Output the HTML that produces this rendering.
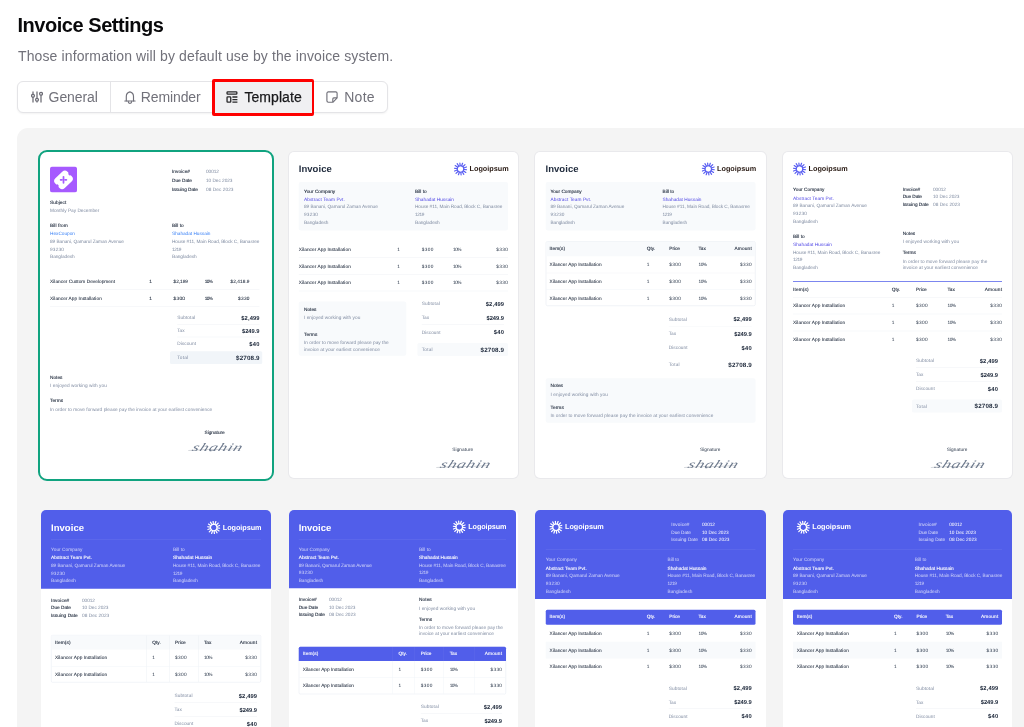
<!DOCTYPE html>
<html lang="en"><head><meta charset="utf-8"><title>Invoice Settings</title>
<style>
*{margin:0;padding:0}
html,body{width:1024px;height:727px;overflow:hidden;background:#fff}
body{position:relative;font-family:"Liberation Sans",sans-serif;-webkit-font-smoothing:antialiased}
.r,.t{position:absolute;display:block}
.t{white-space:nowrap}
.inv{text-rendering:geometricPrecision}
.tabs{box-sizing:border-box;border:1px solid #e4e4e7;border-radius:6px;background:#fff;box-shadow:0 1px 2px rgba(0,0,0,.05)}
.card{position:absolute;box-sizing:border-box;background:#fff;border-radius:5px;overflow:hidden;box-shadow:0 0 0 1px #e9e9ec}
.card.sel{border:2px solid #10a37f;border-radius:9px;box-shadow:none}
.card.blue{box-shadow:none}
.inv{position:absolute;left:0;top:0;width:940px;height:1320px;transform:scale(.25);transform-origin:0 0}
.pt{font-size:20px;line-height:20px;color:#09090b;font-weight:700}
.ps,.tb{font-size:14px;line-height:14px;color:#71717a}
.lb{font-size:19px;line-height:19px;color:#1e293b;}.tx{font-size:19px;line-height:19px;color:#7f8ba1;}.ln{font-size:19px;line-height:19px;color:#4f46e5;}.md{font-size:19px;line-height:19px;color:#1e293b;}.dk{font-size:19px;line-height:19px;color:#283548;}.h1{font-size:38px;line-height:38px;color:#1e293b;font-weight:700;}.lg{font-size:29px;line-height:29px;color:#2a1b14;font-weight:700;}.vl{font-size:23px;line-height:23px;color:#1e293b;font-weight:700;}.tt{font-size:25px;line-height:25px;color:#1e293b;font-weight:700;}.sg{font-size:46px;line-height:46px;color:#6f7b8e;font-family:"Liberation Serif",serif;font-style:italic;}.lb{-webkit-text-stroke:.45px}.md{-webkit-text-stroke:.25px}
</style></head>
<body>
<span class="t pt" style="left:17.5px;top:15.1px;letter-spacing:-0.46px;">Invoice Settings</span><span class="t ps" style="left:18px;top:49.2px;letter-spacing:0.12px;">Those information will by default use by the invoice system.</span><div class="r tabs" style="left:17px;top:80.7px;width:370.6px;height:32.3px"></div><div class="r" style="left:110px;top:82px;width:1px;height:30px;background:#e4e4e7;"></div><div class="r" style="left:212.3px;top:79.3px;width:102px;height:36.6px;background:#fe0000;border-radius:2px"></div><div class="r" style="left:214.9px;top:81.9px;width:96.8px;height:31.4px;background:#f0f0f2"></div><svg class="r ic" style="left:31px;top:91px" width="12" height="12" viewBox="0 0 12 12" fill="none" stroke="#6b6b74" stroke-width="1.25"><path d="M2 .4v2.9M2 6.3v5.3M6 .4v6.8M6 10.4v1.2M10 4.4v7.2"/><circle cx="2" cy="4.8" r="1.45"/><circle cx="6" cy="8.8" r="1.45"/><circle cx="10" cy="2.8" r="1.45"/></svg><span class="t tb" style="left:48.6px;top:90px;letter-spacing:-0.1px;">General</span><svg class="r ic" style="left:123.5px;top:90.5px" width="12" height="13" viewBox="0 0 12 13" fill="none" stroke="#71717a" stroke-width="1.15" stroke-linejoin="round" stroke-linecap="round"><path d="M2.3 9.9V5.4C2.3 2.9 4 1.4 5.9 .9C7.8 1.4 9.5 2.9 9.5 5.4V9.9"/><path d="M.8 9.95H11.1"/><path d="M4.2 10.4a1.75 1.9 0 0 0 3.5 0"/></svg><span class="t tb" style="left:140.7px;top:90px;letter-spacing:-0.1px;">Reminder</span><svg class="r ic" style="left:225.5px;top:91px" width="12" height="12" viewBox="0 0 12 12" fill="none" stroke="#27272a" stroke-width="1.3"><rect x="1.05" y=".8" width="9.8" height="2.3" rx=".7"/><rect x="1.05" y="5.8" width="3.7" height="5.3" rx=".7"/><path d="M6.4 6h5M6.4 8.6h5M6.4 11.2h5"/></svg><span class="t tb" style="left:244.4px;top:90px;letter-spacing:0.07px;color:#18181b;-webkit-text-stroke:.25px #18181b;">Template</span><svg class="r ic" style="left:325.9px;top:91px" width="12" height="12" viewBox="0 0 12 12" fill="none" stroke="#71717a" stroke-width="1.15" stroke-linejoin="round"><path d="M2.3.9h7.4a1.4 1.4 0 0 1 1.4 1.4v4.6L7.1 11.2H2.3A1.4 1.4 0 0 1 .9 9.8V2.3A1.4 1.4 0 0 1 2.3.9z"/><path d="M11 6.9H7.8a1 1 0 0 0-1 1v3.2"/></svg><span class="t tb" style="left:344.2px;top:90px;letter-spacing:0.28px;">Note</span><div class="r" style="left:17.2px;top:128.4px;width:1020px;height:620px;background:#f4f4f4;border-radius:11px"></div>
<div class="card sel" style="left:38px;top:149.5px;width:236px;height:331.5px;"><div class="inv" style="left:-2px;top:-1.5px"><svg class="r" style="left:48px;top:66px" width="108" height="104" viewBox="0 0 108 104"><rect width="108" height="104" rx="10" fill="#a65aff"/><g transform="rotate(-44 54 53.5)"><rect x="20" y="26.5" width="68" height="54" rx="15" fill="#fff"/><circle cx="19" cy="53.5" r="6" fill="#a65aff"/><circle cx="89" cy="53.5" r="6" fill="#a65aff"/></g><path d="M54 41v24M42.5 53h4.5M61 53h4.5" stroke="#a65aff" stroke-width="7" stroke-linecap="round"/></svg><span class="t lb" style="left:536px;top:74.5px;letter-spacing:0.18px;">Invoice#</span><span class="t tx" style="left:672px;top:74.5px;letter-spacing:-0.21px;">00012</span><span class="t lb" style="left:536px;top:110.5px;letter-spacing:-0.04px;">Due Date</span><span class="t tx" style="left:672px;top:110.5px;letter-spacing:-0.17px;">10 Dec 2023</span><span class="t lb" style="left:536px;top:146.5px;letter-spacing:-0.15px;">Issuing Date</span><span class="t tx" style="left:672px;top:146.5px;letter-spacing:0.23px;">08 Dec 2023</span><span class="t lb" style="left:48px;top:199.5px;letter-spacing:0.27px;">Subject</span><span class="t tx" style="left:48px;top:232.5px;letter-spacing:-0.02px;">Monthly Pay December</span><span class="t lb" style="left:48px;top:292.5px;letter-spacing:0.3px;">Bill from</span><span class="t ln" style="left:48px;top:324.5px;letter-spacing:-0.04px;color:#3b82f6;">HexCoupon</span><span class="t tx" style="left:48px;top:355.5px;letter-spacing:-0.19px;">89 Banani, Qamarul Zaman Avenue</span><span class="t tx" style="left:48px;top:386.5px;letter-spacing:0.79px;">93230</span><span class="t tx" style="left:48px;top:417.5px;letter-spacing:-0.15px;">Bangladesh</span><span class="t lb" style="left:536px;top:292.5px;letter-spacing:0.09px;">Bill to</span><span class="t ln" style="left:536px;top:324.5px;letter-spacing:-0.09px;color:#3b82f6;">Shahadat Hussain</span><span class="t tx" style="left:536px;top:355.5px;letter-spacing:-0.29px;">House #11, Main Road, Block C, Banasree</span><span class="t tx" style="left:536px;top:386.5px;letter-spacing:-1.42px;">1219</span><span class="t tx" style="left:536px;top:417.5px;letter-spacing:-0.15px;">Bangladesh</span><span class="t md" style="left:48px;top:515.5px;letter-spacing:0.13px;">Xilancer Custom Development</span><span class="t md" style="left:445px;top:515.5px;">1</span><span class="t md" style="left:542px;top:515.5px;letter-spacing:-0.02px;">$2,199</span><span class="t md" style="left:667px;top:515.5px;letter-spacing:-2.51px;">10%</span><span class="t md" style="left:770px;top:515.5px;letter-spacing:0.29px;">$2,418.9</span><div class="r" style="left:48px;top:558px;width:838px;height:2px;background:#eef1f5;"></div><span class="t md" style="left:48px;top:582.5px;letter-spacing:0.18px;">Xilancer App Installation</span><span class="t md" style="left:445px;top:582.5px;">1</span><span class="t md" style="left:542px;top:582.5px;letter-spacing:1.24px;">$300</span><span class="t md" style="left:667px;top:582.5px;letter-spacing:-2.51px;">10%</span><span class="t md" style="left:800px;top:582.5px;letter-spacing:1.24px;">$330</span><div class="r" style="left:48px;top:624px;width:838px;height:2px;background:#eef1f5;"></div><div class="r" style="left:528px;top:805px;width:369px;height:51px;background:#f1f5f9;border-radius:6px;"></div><div class="r" style="left:557px;top:696px;width:329px;height:2px;background:#eef1f5;"></div><div class="r" style="left:557px;top:747px;width:329px;height:2px;background:#eef1f5;"></div><span class="t tx" style="left:557px;top:661.5px;letter-spacing:0.33px;">Subtotal</span><span class="t vl" style="left:813px;top:659.5px;letter-spacing:0.53px;">$2,499</span><span class="t tx" style="left:557px;top:713.5px;letter-spacing:-0.28px;">Tax</span><span class="t vl" style="left:816px;top:711.5px;letter-spacing:-0.07px;">$249.9</span><span class="t tx" style="left:557px;top:764.5px;letter-spacing:0.15px;">Discount</span><span class="t vl" style="left:845px;top:762.5px;letter-spacing:1.31px;">$40</span><span class="t tx" style="left:557px;top:820.5px;letter-spacing:0.72px;">Total</span><span class="t tt" style="left:792px;top:817.5px;letter-spacing:0.61px;">$2708.9</span><span class="t lb" style="left:48px;top:900.5px;letter-spacing:0.09px;">Notes</span><span class="t tx" style="left:48px;top:933.5px;letter-spacing:0.17px;">I enjoyed working with you</span><span class="t lb" style="left:48px;top:991.5px;letter-spacing:0.07px;">Terms</span><span class="t tx" style="left:48px;top:1026.5px;letter-spacing:0.09px;">In order to move forward please pay the invoice at your earliest convenience</span><span class="t lb" style="left:666px;top:1120.5px;letter-spacing:-0.04px;">Signature</span><span class="t sg" style="left:610px;top:1164px;letter-spacing:1.86px;transform:skewX(-22deg) scaleX(1.5);transform-origin:0 100%;">shahin</span><div class="r" style="left:601px;top:1197px;width:208px;height:1.6px;background:rgba(71,85,105,.45);border-radius:1px;transform:rotate(-1.5deg);"></div></div></div>
<div class="card " style="left:288.5px;top:152px;width:229.6px;height:325.6px;"><div class="inv" style="left:-0.5px;top:0px"><span class="t h1" style="left:43px;top:50px;letter-spacing:0.18px;">Invoice</span><svg class="r" style="left:664px;top:42px" width="52" height="52" viewBox="0 0 52 52"><g stroke="#5a5ff2" stroke-width="4.78" stroke-linecap="round" fill="none"><line x1="38.91" y1="27.56" x2="51.04" y2="29.02"/><line x1="36.95" y1="33.00" x2="47.25" y2="39.58"/><line x1="32.83" y1="37.06" x2="39.25" y2="47.46"/><line x1="27.35" y1="38.93" x2="28.63" y2="51.08"/><line x1="21.61" y1="38.24" x2="17.48" y2="49.74"/><line x1="16.74" y1="35.12" x2="8.03" y2="43.69"/><line x1="13.70" y1="30.20" x2="2.13" y2="34.14"/><line x1="13.09" y1="24.44" x2="0.96" y2="22.98"/><line x1="15.05" y1="19.00" x2="4.75" y2="12.42"/><line x1="19.17" y1="14.94" x2="12.75" y2="4.54"/><line x1="24.65" y1="13.07" x2="23.37" y2="0.92"/><line x1="30.39" y1="13.76" x2="34.52" y2="2.26"/><line x1="35.26" y1="16.88" x2="43.97" y2="8.31"/><line x1="38.30" y1="21.80" x2="49.87" y2="17.86"/><circle cx="26" cy="26" r="13.00" stroke-width="4.42"/></g></svg><span class="t lg" style="left:726px;top:52.5px;letter-spacing:0.09px;">Logoipsum</span><div class="r" style="left:43px;top:120px;width:837px;height:194px;background:#f8fafc;border-radius:8px;"></div><span class="t lb" style="left:64px;top:146.5px;">Your Company</span><span class="t ln" style="left:64px;top:178.5px;letter-spacing:0.23px;">Abstract Team Pvt.</span><span class="t tx" style="left:64px;top:209.5px;letter-spacing:-0.22px;">89 Banani, Qamarul Zaman Avenue</span><span class="t tx" style="left:64px;top:240.5px;letter-spacing:0.79px;">93230</span><span class="t tx" style="left:64px;top:271.5px;letter-spacing:-0.26px;">Bangladesh</span><span class="t lb" style="left:508px;top:146.5px;letter-spacing:0.09px;">Bill to</span><span class="t ln" style="left:508px;top:178.5px;letter-spacing:0.05px;">Shahadat Hussain</span><span class="t tx" style="left:508px;top:209.5px;letter-spacing:-0.29px;">House #11, Main Road, Block C, Banasree</span><span class="t tx" style="left:508px;top:240.5px;letter-spacing:-1.42px;">1219</span><span class="t tx" style="left:508px;top:271.5px;letter-spacing:-0.15px;">Bangladesh</span><span class="t md" style="left:43px;top:380.5px;letter-spacing:0.22px;">Xilancer App Installation</span><span class="t dk" style="left:437px;top:380.5px;">1</span><span class="t dk" style="left:535px;top:380.5px;letter-spacing:1.58px;">$300</span><span class="t dk" style="left:660px;top:380.5px;letter-spacing:-2.01px;">10%</span><span class="t dk" style="left:833px;top:380.5px;letter-spacing:1.58px;">$330</span><span class="t md" style="left:43px;top:446.5px;letter-spacing:0.22px;">Xilancer App Installation</span><span class="t dk" style="left:437px;top:446.5px;">1</span><span class="t dk" style="left:535px;top:446.5px;letter-spacing:1.58px;">$300</span><span class="t dk" style="left:660px;top:446.5px;letter-spacing:-2.01px;">10%</span><span class="t dk" style="left:833px;top:446.5px;letter-spacing:1.58px;">$330</span><span class="t md" style="left:43px;top:513.5px;letter-spacing:0.22px;">Xilancer App Installation</span><span class="t dk" style="left:437px;top:513.5px;">1</span><span class="t dk" style="left:535px;top:513.5px;letter-spacing:1.58px;">$300</span><span class="t dk" style="left:660px;top:513.5px;letter-spacing:-2.01px;">10%</span><span class="t dk" style="left:833px;top:513.5px;letter-spacing:1.58px;">$330</span><div class="r" style="left:43px;top:421px;width:837px;height:2px;background:#eef1f5;"></div><div class="r" style="left:43px;top:488px;width:837px;height:2px;background:#eef1f5;"></div><div class="r" style="left:43px;top:555px;width:837px;height:2px;background:#eef1f5;"></div><div class="r" style="left:43px;top:598px;width:430px;height:217px;background:#f8fafc;border-radius:8px;"></div><span class="t lb" style="left:64px;top:618.5px;letter-spacing:0.09px;">Notes</span><span class="t tx" style="left:64px;top:651.5px;letter-spacing:0.09px;">I enjoyed working with you</span><span class="t lb" style="left:64px;top:719.5px;letter-spacing:0.32px;">Terms</span><span class="t tx" style="left:64px;top:753.5px;letter-spacing:0.08px;">In order to move forward please pay the</span><span class="t tx" style="left:64px;top:778.5px;letter-spacing:0.06px;">invoice at your earliest convenience</span><div class="r" style="left:518px;top:764px;width:362px;height:52px;background:#f8fafc;border-radius:6px;"></div><div class="r" style="left:535px;top:688px;width:329px;height:2px;background:#eef1f5;"></div><span class="t tx" style="left:535px;top:597.5px;letter-spacing:0.33px;">Subtotal</span><span class="t vl" style="left:791px;top:595.5px;letter-spacing:0.53px;">$2,499</span><span class="t tx" style="left:535px;top:653.5px;letter-spacing:-0.28px;">Tax</span><span class="t vl" style="left:794px;top:651.5px;letter-spacing:-0.07px;">$249.9</span><span class="t tx" style="left:535px;top:711.5px;letter-spacing:0.15px;">Discount</span><span class="t vl" style="left:823px;top:709.5px;letter-spacing:1.31px;">$40</span><span class="t tx" style="left:535px;top:780.5px;letter-spacing:0.72px;">Total</span><span class="t tt" style="left:770px;top:777.5px;letter-spacing:0.61px;">$2708.9</span><span class="t dk" style="left:657px;top:1179.5px;letter-spacing:0.33px;">Signature</span><span class="t sg" style="left:602px;top:1224px;letter-spacing:1.86px;transform:skewX(-22deg) scaleX(1.5);transform-origin:0 100%;">shahin</span><div class="r" style="left:593px;top:1257px;width:208px;height:1.6px;background:rgba(71,85,105,.45);border-radius:1px;transform:rotate(-1.5deg);"></div></div></div>
<div class="card " style="left:535.4px;top:152px;width:230.2px;height:325.6px;"><div class="inv" style="left:-0.4px;top:0px"><span class="t h1" style="left:42px;top:50px;letter-spacing:0.18px;">Invoice</span><svg class="r" style="left:667px;top:42px" width="52" height="52" viewBox="0 0 52 52"><g stroke="#5a5ff2" stroke-width="4.78" stroke-linecap="round" fill="none"><line x1="38.91" y1="27.56" x2="51.04" y2="29.02"/><line x1="36.95" y1="33.00" x2="47.25" y2="39.58"/><line x1="32.83" y1="37.06" x2="39.25" y2="47.46"/><line x1="27.35" y1="38.93" x2="28.63" y2="51.08"/><line x1="21.61" y1="38.24" x2="17.48" y2="49.74"/><line x1="16.74" y1="35.12" x2="8.03" y2="43.69"/><line x1="13.70" y1="30.20" x2="2.13" y2="34.14"/><line x1="13.09" y1="24.44" x2="0.96" y2="22.98"/><line x1="15.05" y1="19.00" x2="4.75" y2="12.42"/><line x1="19.17" y1="14.94" x2="12.75" y2="4.54"/><line x1="24.65" y1="13.07" x2="23.37" y2="0.92"/><line x1="30.39" y1="13.76" x2="34.52" y2="2.26"/><line x1="35.26" y1="16.88" x2="43.97" y2="8.31"/><line x1="38.30" y1="21.80" x2="49.87" y2="17.86"/><circle cx="26" cy="26" r="13.00" stroke-width="4.42"/></g></svg><span class="t lg" style="left:728px;top:52.5px;letter-spacing:0.09px;">Logoipsum</span><div class="r" style="left:43px;top:120px;width:839px;height:194px;background:#f8fafc;border-radius:8px;"></div><span class="t lb" style="left:62px;top:146.5px;">Your Company</span><span class="t ln" style="left:62px;top:178.5px;letter-spacing:0.23px;">Abstract Team Pvt.</span><span class="t tx" style="left:62px;top:209.5px;letter-spacing:-0.22px;">89 Banani, Qamarul Zaman Avenue</span><span class="t tx" style="left:62px;top:240.5px;letter-spacing:0.79px;">93230</span><span class="t tx" style="left:62px;top:271.5px;letter-spacing:-0.26px;">Bangladesh</span><span class="t lb" style="left:510px;top:146.5px;letter-spacing:0.09px;">Bill to</span><span class="t ln" style="left:510px;top:178.5px;letter-spacing:0.05px;">Shahadat Hussain</span><span class="t tx" style="left:510px;top:209.5px;letter-spacing:-0.29px;">House #11, Main Road, Block C, Banasree</span><span class="t tx" style="left:510px;top:240.5px;letter-spacing:-1.42px;">1219</span><span class="t tx" style="left:510px;top:271.5px;letter-spacing:-0.15px;">Bangladesh</span><div class="r" style="left:43px;top:357px;width:839px;height:259px;background:#fff;border-radius:7px;border:2px solid #e1e7ef;box-sizing:border-box;"></div><div class="r" style="left:45px;top:359px;width:835px;height:58px;background:#f8fafc;border-radius:5px 5px 0 0;"></div><span class="t lb" style="left:58px;top:375.5px;letter-spacing:0.48px;">Item(s)</span><span class="t lb" style="left:447px;top:375.5px;letter-spacing:0.19px;">Qty.</span><span class="t lb" style="left:537px;top:375.5px;letter-spacing:-0.07px;">Price</span><span class="t lb" style="left:654px;top:375.5px;letter-spacing:-0.28px;">Tax</span><span class="t lb" style="left:798px;top:375.5px;letter-spacing:0.7px;">Amount</span><span class="t md" style="left:58px;top:441.5px;letter-spacing:0.22px;">Xilancer App Installation</span><span class="t dk" style="left:447px;top:441.5px;">1</span><span class="t dk" style="left:537px;top:441.5px;letter-spacing:1.58px;">$300</span><span class="t dk" style="left:654px;top:441.5px;letter-spacing:-2.01px;">10%</span><span class="t dk" style="left:820px;top:441.5px;letter-spacing:1.58px;">$330</span><span class="t md" style="left:58px;top:508.5px;letter-spacing:0.22px;">Xilancer App Installation</span><span class="t dk" style="left:447px;top:508.5px;">1</span><span class="t dk" style="left:537px;top:508.5px;letter-spacing:1.58px;">$300</span><span class="t dk" style="left:654px;top:508.5px;letter-spacing:-2.01px;">10%</span><span class="t dk" style="left:820px;top:508.5px;letter-spacing:1.58px;">$330</span><span class="t md" style="left:58px;top:574.5px;letter-spacing:0.22px;">Xilancer App Installation</span><span class="t dk" style="left:447px;top:574.5px;">1</span><span class="t dk" style="left:537px;top:574.5px;letter-spacing:1.58px;">$300</span><span class="t dk" style="left:654px;top:574.5px;letter-spacing:-2.01px;">10%</span><span class="t dk" style="left:820px;top:574.5px;letter-spacing:1.58px;">$330</span><div class="r" style="left:45px;top:483px;width:835px;height:2px;background:#f1f4f8;"></div><div class="r" style="left:45px;top:550px;width:835px;height:2px;background:#f1f4f8;"></div><span class="t tx" style="left:535px;top:659.5px;letter-spacing:0.33px;">Subtotal</span><span class="t vl" style="left:794px;top:657.5px;letter-spacing:0.53px;">$2,499</span><span class="t tx" style="left:535px;top:717.5px;letter-spacing:-0.28px;">Tax</span><span class="t vl" style="left:797px;top:715.5px;letter-spacing:-0.07px;">$249.9</span><span class="t tx" style="left:535px;top:773.5px;letter-spacing:0.15px;">Discount</span><span class="t vl" style="left:826px;top:771.5px;letter-spacing:1.31px;">$40</span><span class="t tx" style="left:535px;top:841.5px;letter-spacing:0.72px;">Total</span><span class="t tt" style="left:773px;top:838.5px;letter-spacing:0.61px;">$2708.9</span><div class="r" style="left:535px;top:696px;width:332px;height:2px;background:#f4f6f9;"></div><div class="r" style="left:43px;top:905px;width:839px;height:178px;background:#f8fafc;border-radius:8px;"></div><span class="t lb" style="left:62px;top:925.5px;letter-spacing:0.09px;">Notes</span><span class="t tx" style="left:62px;top:958.5px;letter-spacing:0.25px;">I enjoyed working with you</span><span class="t lb" style="left:62px;top:1013.5px;letter-spacing:0.32px;">Terms</span><span class="t tx" style="left:62px;top:1045.5px;letter-spacing:0.12px;">In order to move forward please pay the invoice at your earliest convenience</span><span class="t dk" style="left:660px;top:1179.5px;letter-spacing:0.08px;">Signature</span><span class="t sg" style="left:605px;top:1224px;letter-spacing:1.86px;transform:skewX(-22deg) scaleX(1.5);transform-origin:0 100%;">shahin</span><div class="r" style="left:596px;top:1257px;width:208px;height:1.6px;background:rgba(71,85,105,.45);border-radius:1px;transform:rotate(-1.5deg);"></div></div></div>
<div class="card " style="left:783px;top:152px;width:229.3px;height:325.6px;"><div class="inv" style="left:0px;top:0px"><svg class="r" style="left:40px;top:42px" width="52" height="52" viewBox="0 0 52 52"><g stroke="#5a5ff2" stroke-width="4.78" stroke-linecap="round" fill="none"><line x1="38.91" y1="27.56" x2="51.04" y2="29.02"/><line x1="36.95" y1="33.00" x2="47.25" y2="39.58"/><line x1="32.83" y1="37.06" x2="39.25" y2="47.46"/><line x1="27.35" y1="38.93" x2="28.63" y2="51.08"/><line x1="21.61" y1="38.24" x2="17.48" y2="49.74"/><line x1="16.74" y1="35.12" x2="8.03" y2="43.69"/><line x1="13.70" y1="30.20" x2="2.13" y2="34.14"/><line x1="13.09" y1="24.44" x2="0.96" y2="22.98"/><line x1="15.05" y1="19.00" x2="4.75" y2="12.42"/><line x1="19.17" y1="14.94" x2="12.75" y2="4.54"/><line x1="24.65" y1="13.07" x2="23.37" y2="0.92"/><line x1="30.39" y1="13.76" x2="34.52" y2="2.26"/><line x1="35.26" y1="16.88" x2="43.97" y2="8.31"/><line x1="38.30" y1="21.80" x2="49.87" y2="17.86"/><circle cx="26" cy="26" r="13.00" stroke-width="4.42"/></g></svg><span class="t lg" style="left:102px;top:52.5px;letter-spacing:0.09px;">Logoipsum</span><span class="t lb" style="left:40px;top:141.5px;letter-spacing:0.09px;">Your Company</span><span class="t ln" style="left:40px;top:174.5px;letter-spacing:0.29px;">Abstract Team Pvt.</span><span class="t tx" style="left:40px;top:205.5px;letter-spacing:-0.19px;">89 Banani, Qamarul Zaman Avenue</span><span class="t tx" style="left:40px;top:235.5px;letter-spacing:0.79px;">93230</span><span class="t tx" style="left:40px;top:266.5px;letter-spacing:-0.04px;">Bangladesh</span><span class="t lb" style="left:479px;top:139.5px;letter-spacing:-0.11px;">Invoice#</span><span class="t tx" style="left:600px;top:139.5px;letter-spacing:-0.21px;">00012</span><span class="t lb" style="left:479px;top:169.5px;letter-spacing:-0.47px;">Due Date</span><span class="t tx" style="left:600px;top:169.5px;letter-spacing:-0.17px;">10 Dec 2023</span><span class="t lb" style="left:479px;top:200.5px;letter-spacing:-0.15px;">Issuing Date</span><span class="t tx" style="left:600px;top:200.5px;letter-spacing:0.03px;">08 Dec 2023</span><span class="t lb" style="left:40px;top:326.5px;letter-spacing:0.09px;">Bill to</span><span class="t ln" style="left:40px;top:359.5px;letter-spacing:0.05px;">Shahadat Hussain</span><span class="t tx" style="left:40px;top:390.5px;letter-spacing:-0.29px;">House #11, Main Road, Block C, Banasree</span><span class="t tx" style="left:40px;top:420.5px;letter-spacing:-1.42px;">1219</span><span class="t tx" style="left:40px;top:451.5px;letter-spacing:-0.04px;">Bangladesh</span><span class="t lb" style="left:479px;top:316.5px;letter-spacing:0.09px;">Notes</span><span class="t tx" style="left:479px;top:349.5px;letter-spacing:0.09px;">I enjoyed working with you</span><span class="t lb" style="left:479px;top:392.5px;letter-spacing:0.07px;">Terms</span><span class="t tx" style="left:479px;top:426.5px;letter-spacing:0.06px;">In order to move forward please pay the</span><span class="t tx" style="left:479px;top:452.5px;">invoice at your earliest convenience</span><div class="r" style="left:40px;top:515.5px;width:836px;height:3px;background:#515eea;"></div><span class="t lb" style="left:40px;top:539.5px;letter-spacing:0.48px;">Item(s)</span><span class="t lb" style="left:435px;top:539.5px;letter-spacing:0.19px;">Qty.</span><span class="t lb" style="left:532px;top:539.5px;letter-spacing:-0.07px;">Price</span><span class="t lb" style="left:658px;top:539.5px;letter-spacing:-0.28px;">Tax</span><span class="t lb" style="left:807px;top:539.5px;letter-spacing:0.7px;">Amount</span><div class="r" style="left:40px;top:580px;width:836px;height:2px;background:#eef1f5;"></div><span class="t md" style="left:40px;top:605.5px;letter-spacing:0.22px;">Xilancer App Installation</span><span class="t dk" style="left:435px;top:605.5px;">1</span><span class="t dk" style="left:532px;top:605.5px;letter-spacing:1.58px;">$300</span><span class="t dk" style="left:658px;top:605.5px;letter-spacing:-2.01px;">10%</span><span class="t dk" style="left:829px;top:605.5px;letter-spacing:1.58px;">$330</span><span class="t md" style="left:40px;top:673.5px;letter-spacing:0.22px;">Xilancer App Installation</span><span class="t dk" style="left:435px;top:673.5px;">1</span><span class="t dk" style="left:532px;top:673.5px;letter-spacing:1.58px;">$300</span><span class="t dk" style="left:658px;top:673.5px;letter-spacing:-2.01px;">10%</span><span class="t dk" style="left:829px;top:673.5px;letter-spacing:1.58px;">$330</span><span class="t md" style="left:40px;top:739.5px;letter-spacing:0.22px;">Xilancer App Installation</span><span class="t dk" style="left:435px;top:739.5px;">1</span><span class="t dk" style="left:532px;top:739.5px;letter-spacing:1.58px;">$300</span><span class="t dk" style="left:658px;top:739.5px;letter-spacing:-2.01px;">10%</span><span class="t dk" style="left:829px;top:739.5px;letter-spacing:1.58px;">$330</span><div class="r" style="left:40px;top:647px;width:836px;height:2px;background:#eef1f5;"></div><div class="r" style="left:40px;top:715px;width:836px;height:2px;background:#eef1f5;"></div><div class="r" style="left:516px;top:990px;width:360px;height:52px;background:#f8fafc;border-radius:6px;"></div><div class="r" style="left:532px;top:861px;width:328px;height:2px;background:#eef1f5;"></div><div class="r" style="left:532px;top:918px;width:328px;height:2px;background:#eef1f5;"></div><span class="t tx" style="left:532px;top:825.5px;letter-spacing:0.33px;">Subtotal</span><span class="t vl" style="left:787px;top:823.5px;letter-spacing:0.53px;">$2,499</span><span class="t tx" style="left:532px;top:881.5px;letter-spacing:-0.28px;">Tax</span><span class="t vl" style="left:790px;top:879.5px;letter-spacing:-0.07px;">$249.9</span><span class="t tx" style="left:532px;top:937.5px;letter-spacing:0.15px;">Discount</span><span class="t vl" style="left:819px;top:935.5px;letter-spacing:1.31px;">$40</span><span class="t tx" style="left:532px;top:1006.5px;letter-spacing:0.72px;">Total</span><span class="t tt" style="left:766px;top:1003.5px;letter-spacing:0.61px;">$2708.9</span><span class="t dk" style="left:655px;top:1179.5px;letter-spacing:0.21px;">Signature</span><span class="t sg" style="left:600px;top:1224px;letter-spacing:1.86px;transform:skewX(-22deg) scaleX(1.5);transform-origin:0 100%;">shahin</span><div class="r" style="left:591px;top:1257px;width:208px;height:1.6px;background:rgba(71,85,105,.45);border-radius:1px;transform:rotate(-1.5deg);"></div></div></div>
<div class="card blue" style="left:41px;top:510.4px;width:230.3px;height:326px;"><div class="inv" style="left:0px;top:-0.4px"><div class="r" style="left:0px;top:0px;width:925px;height:315px;background:#515eea;"></div><span class="t h1" style="left:40px;top:51px;letter-spacing:0.18px;color:#ffffff;">Invoice</span><svg class="r" style="left:665px;top:44px" width="52" height="52" viewBox="0 0 52 52"><g stroke="#fff" stroke-width="4.78" stroke-linecap="round" fill="none"><line x1="38.91" y1="27.56" x2="51.04" y2="29.02"/><line x1="36.95" y1="33.00" x2="47.25" y2="39.58"/><line x1="32.83" y1="37.06" x2="39.25" y2="47.46"/><line x1="27.35" y1="38.93" x2="28.63" y2="51.08"/><line x1="21.61" y1="38.24" x2="17.48" y2="49.74"/><line x1="16.74" y1="35.12" x2="8.03" y2="43.69"/><line x1="13.70" y1="30.20" x2="2.13" y2="34.14"/><line x1="13.09" y1="24.44" x2="0.96" y2="22.98"/><line x1="15.05" y1="19.00" x2="4.75" y2="12.42"/><line x1="19.17" y1="14.94" x2="12.75" y2="4.54"/><line x1="24.65" y1="13.07" x2="23.37" y2="0.92"/><line x1="30.39" y1="13.76" x2="34.52" y2="2.26"/><line x1="35.26" y1="16.88" x2="43.97" y2="8.31"/><line x1="38.30" y1="21.80" x2="49.87" y2="17.86"/><circle cx="26" cy="26" r="13.00" stroke-width="4.42"/></g></svg><span class="t lg" style="left:727px;top:54.5px;letter-spacing:-0.16px;color:#ffffff;">Logoipsum</span><div class="r" style="left:40px;top:116px;width:840px;height:2px;background:rgba(255,255,255,.12);"></div><span class="t tx" style="left:40px;top:147.5px;letter-spacing:0.09px;color:rgba(255,255,255,.72);">Your Company</span><span class="t lb" style="left:40px;top:180.5px;letter-spacing:0.29px;color:#ffffff;">Abstract Team Pvt.</span><span class="t tx" style="left:40px;top:211.5px;letter-spacing:-0.16px;color:rgba(255,255,255,.72);">89 Banani, Qamarul Zaman Avenue</span><span class="t tx" style="left:40px;top:242.5px;letter-spacing:0.79px;color:rgba(255,255,255,.72);">93230</span><span class="t tx" style="left:40px;top:273.5px;letter-spacing:-0.04px;color:rgba(255,255,255,.72);">Bangladesh</span><span class="t tx" style="left:528px;top:147.5px;letter-spacing:0.09px;color:rgba(255,255,255,.72);">Bill to</span><span class="t lb" style="left:528px;top:180.5px;letter-spacing:0.11px;color:#ffffff;">Shahadat Hussain</span><span class="t tx" style="left:528px;top:211.5px;letter-spacing:-0.29px;color:rgba(255,255,255,.72);">House #11, Main Road, Block C, Banasree</span><span class="t tx" style="left:528px;top:242.5px;letter-spacing:-1.42px;color:rgba(255,255,255,.72);">1219</span><span class="t tx" style="left:528px;top:273.5px;letter-spacing:-0.04px;color:rgba(255,255,255,.72);">Bangladesh</span><span class="t lb" style="left:40px;top:350.5px;letter-spacing:0.32px;">Invoice#</span><span class="t tx" style="left:164px;top:350.5px;letter-spacing:-0.21px;">00012</span><span class="t lb" style="left:40px;top:381.5px;letter-spacing:-0.04px;">Due Date</span><span class="t tx" style="left:164px;top:381.5px;letter-spacing:-0.17px;">10 Dec 2023</span><span class="t lb" style="left:40px;top:412.5px;letter-spacing:0.13px;">Issuing Date</span><span class="t tx" style="left:164px;top:412.5px;letter-spacing:0.13px;">08 Dec 2023</span><div class="r" style="left:40px;top:500px;width:840px;height:190px;background:#fff;border-radius:6px;border:2px solid #e4e9f0;box-sizing:border-box;"></div><div class="r" style="left:42px;top:502px;width:836px;height:56px;background:#f8fafc;border-radius:4px 4px 0 0;"></div><div class="r" style="left:420px;top:502px;width:2px;height:186px;background:#edf0f4;"></div><div class="r" style="left:512px;top:502px;width:2px;height:186px;background:#edf0f4;"></div><div class="r" style="left:629px;top:502px;width:2px;height:186px;background:#edf0f4;"></div><div class="r" style="left:42px;top:624px;width:836px;height:2px;background:#f1f4f8;"></div><span class="t lb" style="left:56px;top:519.5px;letter-spacing:0.48px;">Item(s)</span><span class="t lb" style="left:445px;top:519.5px;letter-spacing:0.19px;">Qty.</span><span class="t lb" style="left:536px;top:519.5px;letter-spacing:-0.07px;">Price</span><span class="t lb" style="left:652px;top:519.5px;letter-spacing:-0.28px;">Tax</span><span class="t lb" style="left:795px;top:519.5px;letter-spacing:0.7px;">Amount</span><span class="t md" style="left:56px;top:581.5px;letter-spacing:0.22px;">Xilancer App Installation</span><span class="t dk" style="left:445px;top:581.5px;">1</span><span class="t dk" style="left:536px;top:581.5px;letter-spacing:1.58px;">$300</span><span class="t dk" style="left:652px;top:581.5px;letter-spacing:-2.01px;">10%</span><span class="t dk" style="left:817px;top:581.5px;letter-spacing:1.58px;">$330</span><span class="t md" style="left:56px;top:648.5px;letter-spacing:0.22px;">Xilancer App Installation</span><span class="t dk" style="left:445px;top:648.5px;">1</span><span class="t dk" style="left:536px;top:648.5px;letter-spacing:1.58px;">$300</span><span class="t dk" style="left:652px;top:648.5px;letter-spacing:-2.01px;">10%</span><span class="t dk" style="left:817px;top:648.5px;letter-spacing:1.58px;">$330</span><div class="r" style="left:534px;top:769px;width:330px;height:2px;background:#eef1f5;"></div><div class="r" style="left:534px;top:825px;width:330px;height:2px;background:#eef1f5;"></div><span class="t tx" style="left:534px;top:732.5px;letter-spacing:0.33px;">Subtotal</span><span class="t vl" style="left:791px;top:730.5px;letter-spacing:0.53px;">$2,499</span><span class="t tx" style="left:534px;top:789.5px;letter-spacing:-0.28px;">Tax</span><span class="t vl" style="left:794px;top:787.5px;letter-spacing:-0.07px;">$249.9</span><span class="t tx" style="left:534px;top:845.5px;letter-spacing:0.15px;">Discount</span><span class="t vl" style="left:823px;top:843.5px;letter-spacing:1.31px;">$40</span><span class="t tx" style="left:534px;top:915.5px;letter-spacing:0.72px;">Total</span><span class="t tt" style="left:770px;top:912.5px;letter-spacing:0.61px;">$2708.9</span></div></div>
<div class="card blue" style="left:288.5px;top:510.4px;width:229.8px;height:326px;"><div class="inv" style="left:-0.5px;top:-0.4px"><div class="r" style="left:0px;top:0px;width:912px;height:313px;background:#515eea;border-radius:16px 16px 0 0;"></div><span class="t h1" style="left:43px;top:51px;letter-spacing:-0.16px;color:#ffffff;">Invoice</span><svg class="r" style="left:659px;top:42px" width="52" height="52" viewBox="0 0 52 52"><g stroke="#fff" stroke-width="4.78" stroke-linecap="round" fill="none"><line x1="38.91" y1="27.56" x2="51.04" y2="29.02"/><line x1="36.95" y1="33.00" x2="47.25" y2="39.58"/><line x1="32.83" y1="37.06" x2="39.25" y2="47.46"/><line x1="27.35" y1="38.93" x2="28.63" y2="51.08"/><line x1="21.61" y1="38.24" x2="17.48" y2="49.74"/><line x1="16.74" y1="35.12" x2="8.03" y2="43.69"/><line x1="13.70" y1="30.20" x2="2.13" y2="34.14"/><line x1="13.09" y1="24.44" x2="0.96" y2="22.98"/><line x1="15.05" y1="19.00" x2="4.75" y2="12.42"/><line x1="19.17" y1="14.94" x2="12.75" y2="4.54"/><line x1="24.65" y1="13.07" x2="23.37" y2="0.92"/><line x1="30.39" y1="13.76" x2="34.52" y2="2.26"/><line x1="35.26" y1="16.88" x2="43.97" y2="8.31"/><line x1="38.30" y1="21.80" x2="49.87" y2="17.86"/><circle cx="26" cy="26" r="13.00" stroke-width="4.42"/></g></svg><span class="t lg" style="left:721px;top:53.5px;letter-spacing:-0.41px;color:#ffffff;">Logoipsum</span><div class="r" style="left:43px;top:116px;width:829px;height:2px;background:rgba(255,255,255,.12);"></div><span class="t tx" style="left:43px;top:146.5px;letter-spacing:-0.09px;color:rgba(255,255,255,.72);">Your Company</span><span class="t lb" style="left:43px;top:179.5px;letter-spacing:0.11px;color:#ffffff;">Abstract Team Pvt.</span><span class="t tx" style="left:43px;top:210.5px;letter-spacing:-0.29px;color:rgba(255,255,255,.72);">89 Banani, Qamarul Zaman Avenue</span><span class="t tx" style="left:43px;top:240.5px;letter-spacing:0.79px;color:rgba(255,255,255,.72);">93230</span><span class="t tx" style="left:43px;top:271.5px;letter-spacing:-0.26px;color:rgba(255,255,255,.72);">Bangladesh</span><span class="t tx" style="left:524px;top:146.5px;letter-spacing:0.09px;color:rgba(255,255,255,.72);">Bill to</span><span class="t lb" style="left:524px;top:179.5px;letter-spacing:-0.02px;color:#ffffff;">Shahadat Hussain</span><span class="t tx" style="left:524px;top:210.5px;letter-spacing:-0.36px;color:rgba(255,255,255,.72);">House #11, Main Road, Block C, Banasree</span><span class="t tx" style="left:524px;top:240.5px;letter-spacing:-1.42px;color:rgba(255,255,255,.72);">1219</span><span class="t tx" style="left:524px;top:271.5px;letter-spacing:-0.26px;color:rgba(255,255,255,.72);">Bangladesh</span><span class="t lb" style="left:43px;top:347.5px;letter-spacing:0.18px;">Invoice#</span><span class="t tx" style="left:164px;top:347.5px;letter-spacing:-0.21px;">00012</span><span class="t lb" style="left:43px;top:378.5px;letter-spacing:-0.32px;">Due Date</span><span class="t tx" style="left:164px;top:378.5px;letter-spacing:-0.17px;">10 Dec 2023</span><span class="t lb" style="left:43px;top:408.5px;letter-spacing:-0.06px;">Issuing Date</span><span class="t tx" style="left:164px;top:408.5px;letter-spacing:-0.07px;">08 Dec 2023</span><span class="t lb" style="left:524px;top:349.5px;letter-spacing:0.34px;">Notes</span><span class="t tx" style="left:524px;top:382.5px;letter-spacing:0.05px;">I enjoyed working with you</span><span class="t lb" style="left:524px;top:426.5px;letter-spacing:0.07px;">Terms</span><span class="t tx" style="left:524px;top:458.5px;">In order to move forward please pay the</span><span class="t tx" style="left:524px;top:485.5px;letter-spacing:-0.03px;">invoice at your earliest convenience</span><div class="r" style="left:43px;top:547px;width:829px;height:190px;background:#fff;border-radius:6px;border:2px solid #e4e9f0;box-sizing:border-box;"></div><div class="r" style="left:416px;top:604px;width:2px;height:131px;background:#f1f4f8;"></div><div class="r" style="left:504px;top:604px;width:2px;height:131px;background:#f1f4f8;"></div><div class="r" style="left:621px;top:604px;width:2px;height:131px;background:#f1f4f8;"></div><div class="r" style="left:744px;top:604px;width:2px;height:131px;background:#f1f4f8;"></div><div class="r" style="left:43px;top:547px;width:829px;height:57px;background:#515eea;border-radius:6px 6px 0 0;"></div><div class="r" style="left:416px;top:547px;width:2px;height:57px;background:rgba(255,255,255,.07);"></div><div class="r" style="left:504px;top:547px;width:2px;height:57px;background:rgba(255,255,255,.07);"></div><div class="r" style="left:621px;top:547px;width:2px;height:57px;background:rgba(255,255,255,.07);"></div><div class="r" style="left:744px;top:547px;width:2px;height:57px;background:rgba(255,255,255,.07);"></div><div class="r" style="left:45px;top:669px;width:825px;height:2px;background:#f1f4f8;"></div><span class="t lb" style="left:59px;top:565.5px;letter-spacing:0.48px;color:#ffffff;">Item(s)</span><span class="t lb" style="left:442px;top:565.5px;letter-spacing:0.19px;color:#ffffff;">Qty.</span><span class="t lb" style="left:531px;top:565.5px;letter-spacing:-0.07px;color:#ffffff;">Price</span><span class="t lb" style="left:647px;top:565.5px;letter-spacing:-0.28px;color:#ffffff;">Tax</span><span class="t lb" style="left:787px;top:565.5px;letter-spacing:0.7px;color:#ffffff;">Amount</span><span class="t md" style="left:59px;top:626.5px;letter-spacing:0.09px;">Xilancer App Installation</span><span class="t dk" style="left:442px;top:626.5px;">1</span><span class="t dk" style="left:531px;top:626.5px;letter-spacing:1.58px;">$300</span><span class="t dk" style="left:647px;top:626.5px;letter-spacing:-2.51px;">10%</span><span class="t dk" style="left:810px;top:626.5px;letter-spacing:1.24px;">$330</span><span class="t md" style="left:59px;top:693.5px;letter-spacing:0.09px;">Xilancer App Installation</span><span class="t dk" style="left:442px;top:693.5px;">1</span><span class="t dk" style="left:531px;top:693.5px;letter-spacing:1.58px;">$300</span><span class="t dk" style="left:647px;top:693.5px;letter-spacing:-2.51px;">10%</span><span class="t dk" style="left:810px;top:693.5px;letter-spacing:1.24px;">$330</span><div class="r" style="left:531px;top:813px;width:325px;height:2px;background:#eef1f5;"></div><span class="t tx" style="left:531px;top:777.5px;letter-spacing:0.33px;">Subtotal</span><span class="t vl" style="left:783px;top:775.5px;letter-spacing:0.53px;">$2,499</span><span class="t tx" style="left:531px;top:833.5px;letter-spacing:-0.28px;">Tax</span><span class="t vl" style="left:786px;top:831.5px;letter-spacing:-0.07px;">$249.9</span><span class="t tx" style="left:531px;top:889.5px;letter-spacing:0.15px;">Discount</span><span class="t vl" style="left:815px;top:887.5px;letter-spacing:1.31px;">$40</span><span class="t tx" style="left:531px;top:950.5px;letter-spacing:0.72px;">Total</span><span class="t tt" style="left:762px;top:947.5px;letter-spacing:0.61px;">$2708.9</span></div></div>
<div class="card blue" style="left:535.4px;top:510.4px;width:230.2px;height:326px;"><div class="inv" style="left:-0.4px;top:-0.4px"><div class="r" style="left:0px;top:0px;width:925px;height:356px;background:#515eea;"></div><svg class="r" style="left:58px;top:43px" width="52" height="52" viewBox="0 0 52 52"><g stroke="#fff" stroke-width="4.78" stroke-linecap="round" fill="none"><line x1="38.91" y1="27.56" x2="51.04" y2="29.02"/><line x1="36.95" y1="33.00" x2="47.25" y2="39.58"/><line x1="32.83" y1="37.06" x2="39.25" y2="47.46"/><line x1="27.35" y1="38.93" x2="28.63" y2="51.08"/><line x1="21.61" y1="38.24" x2="17.48" y2="49.74"/><line x1="16.74" y1="35.12" x2="8.03" y2="43.69"/><line x1="13.70" y1="30.20" x2="2.13" y2="34.14"/><line x1="13.09" y1="24.44" x2="0.96" y2="22.98"/><line x1="15.05" y1="19.00" x2="4.75" y2="12.42"/><line x1="19.17" y1="14.94" x2="12.75" y2="4.54"/><line x1="24.65" y1="13.07" x2="23.37" y2="0.92"/><line x1="30.39" y1="13.76" x2="34.52" y2="2.26"/><line x1="35.26" y1="16.88" x2="43.97" y2="8.31"/><line x1="38.30" y1="21.80" x2="49.87" y2="17.86"/><circle cx="26" cy="26" r="13.00" stroke-width="4.42"/></g></svg><span class="t lg" style="left:120px;top:53.5px;letter-spacing:-0.16px;color:#ffffff;">Logoipsum</span><span class="t tx" style="left:545px;top:47.5px;letter-spacing:0.32px;color:rgba(255,255,255,.8);">Invoice#</span><span class="t tx" style="left:668px;top:47.5px;letter-spacing:-0.21px;color:#ffffff;">00012</span><span class="t tx" style="left:545px;top:78.5px;letter-spacing:-0.18px;color:rgba(255,255,255,.8);">Due Date</span><span class="t tx" style="left:668px;top:78.5px;letter-spacing:-0.07px;color:#ffffff;">10 Dec 2023</span><span class="t tx" style="left:545px;top:108.5px;letter-spacing:0.13px;color:rgba(255,255,255,.8);">Issuing Date</span><span class="t tx" style="left:668px;top:108.5px;letter-spacing:0.23px;color:#ffffff;">08 Dec 2023</span><div class="r" style="left:43px;top:156px;width:839px;height:2px;background:rgba(255,255,255,.12);"></div><span class="t tx" style="left:43px;top:188.5px;color:rgba(255,255,255,.72);">Your Company</span><span class="t lb" style="left:43px;top:222.5px;letter-spacing:0.29px;color:#ffffff;">Abstract Team Pvt.</span><span class="t tx" style="left:43px;top:253.5px;letter-spacing:-0.19px;color:rgba(255,255,255,.72);">89 Banani, Qamarul Zaman Avenue</span><span class="t tx" style="left:43px;top:283.5px;letter-spacing:0.79px;color:rgba(255,255,255,.72);">93230</span><span class="t tx" style="left:43px;top:314.5px;letter-spacing:-0.04px;color:rgba(255,255,255,.72);">Bangladesh</span><span class="t tx" style="left:530px;top:188.5px;letter-spacing:0.09px;color:rgba(255,255,255,.72);">Bill to</span><span class="t lb" style="left:530px;top:222.5px;letter-spacing:0.05px;color:#ffffff;">Shahadat Hussain</span><span class="t tx" style="left:530px;top:253.5px;letter-spacing:-0.26px;color:rgba(255,255,255,.72);">House #11, Main Road, Block C, Banasree</span><span class="t tx" style="left:530px;top:283.5px;letter-spacing:-1.42px;color:rgba(255,255,255,.72);">1219</span><span class="t tx" style="left:530px;top:314.5px;letter-spacing:-0.04px;color:rgba(255,255,255,.72);">Bangladesh</span><div class="r" style="left:43px;top:399px;width:839px;height:60px;background:#515eea;border-radius:6px;"></div><div class="r" style="left:43px;top:527px;width:839px;height:67px;background:#f8fafc;"></div><span class="t lb" style="left:58px;top:417.5px;letter-spacing:0.48px;color:#ffffff;">Item(s)</span><span class="t lb" style="left:447px;top:417.5px;letter-spacing:0.19px;color:#ffffff;">Qty.</span><span class="t lb" style="left:537px;top:417.5px;letter-spacing:-0.07px;color:#ffffff;">Price</span><span class="t lb" style="left:654px;top:417.5px;letter-spacing:-0.28px;color:#ffffff;">Tax</span><span class="t lb" style="left:798px;top:417.5px;letter-spacing:0.7px;color:#ffffff;">Amount</span><span class="t md" style="left:58px;top:483.5px;letter-spacing:0.22px;">Xilancer App Installation</span><span class="t dk" style="left:447px;top:483.5px;">1</span><span class="t dk" style="left:537px;top:483.5px;letter-spacing:1.58px;">$300</span><span class="t dk" style="left:654px;top:483.5px;letter-spacing:-2.01px;">10%</span><span class="t dk" style="left:820px;top:483.5px;letter-spacing:1.58px;">$330</span><span class="t md" style="left:58px;top:550.5px;letter-spacing:0.22px;">Xilancer App Installation</span><span class="t dk" style="left:447px;top:550.5px;">1</span><span class="t dk" style="left:537px;top:550.5px;letter-spacing:1.58px;">$300</span><span class="t dk" style="left:654px;top:550.5px;letter-spacing:-2.01px;">10%</span><span class="t dk" style="left:820px;top:550.5px;letter-spacing:1.58px;">$330</span><span class="t md" style="left:58px;top:617.5px;letter-spacing:0.22px;">Xilancer App Installation</span><span class="t dk" style="left:447px;top:617.5px;">1</span><span class="t dk" style="left:537px;top:617.5px;letter-spacing:1.58px;">$300</span><span class="t dk" style="left:654px;top:617.5px;letter-spacing:-2.01px;">10%</span><span class="t dk" style="left:820px;top:617.5px;letter-spacing:1.58px;">$330</span><div class="r" style="left:535px;top:792px;width:332px;height:2px;background:#eef1f5;"></div><span class="t tx" style="left:535px;top:702.5px;letter-spacing:0.33px;">Subtotal</span><span class="t vl" style="left:794px;top:700.5px;letter-spacing:0.53px;">$2,499</span><span class="t tx" style="left:535px;top:758.5px;letter-spacing:-0.28px;">Tax</span><span class="t vl" style="left:797px;top:756.5px;letter-spacing:-0.07px;">$249.9</span><span class="t tx" style="left:535px;top:815.5px;letter-spacing:0.15px;">Discount</span><span class="t vl" style="left:826px;top:813.5px;letter-spacing:1.31px;">$40</span><span class="t tx" style="left:535px;top:885.5px;letter-spacing:0.72px;">Total</span><span class="t tt" style="left:773px;top:882.5px;letter-spacing:0.61px;">$2708.9</span></div></div>
<div class="card blue" style="left:783px;top:510.4px;width:229.3px;height:326px;"><div class="inv" style="left:0px;top:-0.4px"><div class="r" style="left:0px;top:0px;width:925px;height:356px;background:#515eea;"></div><svg class="r" style="left:55px;top:43px" width="52" height="52" viewBox="0 0 52 52"><g stroke="#fff" stroke-width="4.78" stroke-linecap="round" fill="none"><line x1="38.91" y1="27.56" x2="51.04" y2="29.02"/><line x1="36.95" y1="33.00" x2="47.25" y2="39.58"/><line x1="32.83" y1="37.06" x2="39.25" y2="47.46"/><line x1="27.35" y1="38.93" x2="28.63" y2="51.08"/><line x1="21.61" y1="38.24" x2="17.48" y2="49.74"/><line x1="16.74" y1="35.12" x2="8.03" y2="43.69"/><line x1="13.70" y1="30.20" x2="2.13" y2="34.14"/><line x1="13.09" y1="24.44" x2="0.96" y2="22.98"/><line x1="15.05" y1="19.00" x2="4.75" y2="12.42"/><line x1="19.17" y1="14.94" x2="12.75" y2="4.54"/><line x1="24.65" y1="13.07" x2="23.37" y2="0.92"/><line x1="30.39" y1="13.76" x2="34.52" y2="2.26"/><line x1="35.26" y1="16.88" x2="43.97" y2="8.31"/><line x1="38.30" y1="21.80" x2="49.87" y2="17.86"/><circle cx="26" cy="26" r="13.00" stroke-width="4.42"/></g></svg><span class="t lg" style="left:117px;top:53.5px;letter-spacing:-0.16px;color:#ffffff;">Logoipsum</span><span class="t tx" style="left:542px;top:47.5px;letter-spacing:0.32px;color:rgba(255,255,255,.8);">Invoice#</span><span class="t tx" style="left:665px;top:47.5px;letter-spacing:-0.21px;color:#ffffff;">00012</span><span class="t tx" style="left:542px;top:78.5px;letter-spacing:-0.18px;color:rgba(255,255,255,.8);">Due Date</span><span class="t tx" style="left:665px;top:78.5px;letter-spacing:-0.07px;color:#ffffff;">10 Dec 2023</span><span class="t tx" style="left:542px;top:108.5px;letter-spacing:0.13px;color:rgba(255,255,255,.8);">Issuing Date</span><span class="t tx" style="left:665px;top:108.5px;letter-spacing:0.23px;color:#ffffff;">08 Dec 2023</span><div class="r" style="left:40px;top:156px;width:836px;height:2px;background:rgba(255,255,255,.12);"></div><span class="t tx" style="left:40px;top:188.5px;color:rgba(255,255,255,.72);">Your Company</span><span class="t lb" style="left:40px;top:222.5px;letter-spacing:0.29px;color:#ffffff;">Abstract Team Pvt.</span><span class="t tx" style="left:40px;top:253.5px;letter-spacing:-0.19px;color:rgba(255,255,255,.72);">89 Banani, Qamarul Zaman Avenue</span><span class="t tx" style="left:40px;top:283.5px;letter-spacing:0.79px;color:rgba(255,255,255,.72);">93230</span><span class="t tx" style="left:40px;top:314.5px;letter-spacing:-0.04px;color:rgba(255,255,255,.72);">Bangladesh</span><span class="t tx" style="left:527px;top:188.5px;letter-spacing:0.09px;color:rgba(255,255,255,.72);">Bill to</span><span class="t lb" style="left:527px;top:222.5px;letter-spacing:0.05px;color:#ffffff;">Shahadat Hussain</span><span class="t tx" style="left:527px;top:253.5px;letter-spacing:-0.26px;color:rgba(255,255,255,.72);">House #11, Main Road, Block C, Banasree</span><span class="t tx" style="left:527px;top:283.5px;letter-spacing:-1.42px;color:rgba(255,255,255,.72);">1219</span><span class="t tx" style="left:527px;top:314.5px;letter-spacing:-0.04px;color:rgba(255,255,255,.72);">Bangladesh</span><div class="r" style="left:40px;top:399px;width:836px;height:60px;background:#515eea;border-radius:6px;"></div><div class="r" style="left:40px;top:527px;width:836px;height:67px;background:#f8fafc;"></div><span class="t lb" style="left:55px;top:417.5px;letter-spacing:0.48px;color:#ffffff;">Item(s)</span><span class="t lb" style="left:444px;top:417.5px;letter-spacing:0.19px;color:#ffffff;">Qty.</span><span class="t lb" style="left:534px;top:417.5px;letter-spacing:-0.07px;color:#ffffff;">Price</span><span class="t lb" style="left:651px;top:417.5px;letter-spacing:-0.28px;color:#ffffff;">Tax</span><span class="t lb" style="left:792px;top:417.5px;letter-spacing:0.7px;color:#ffffff;">Amount</span><span class="t md" style="left:55px;top:483.5px;letter-spacing:0.22px;">Xilancer App Installation</span><span class="t dk" style="left:444px;top:483.5px;">1</span><span class="t dk" style="left:534px;top:483.5px;letter-spacing:1.58px;">$300</span><span class="t dk" style="left:651px;top:483.5px;letter-spacing:-2.01px;">10%</span><span class="t dk" style="left:814px;top:483.5px;letter-spacing:1.58px;">$330</span><span class="t md" style="left:55px;top:550.5px;letter-spacing:0.22px;">Xilancer App Installation</span><span class="t dk" style="left:444px;top:550.5px;">1</span><span class="t dk" style="left:534px;top:550.5px;letter-spacing:1.58px;">$300</span><span class="t dk" style="left:651px;top:550.5px;letter-spacing:-2.01px;">10%</span><span class="t dk" style="left:814px;top:550.5px;letter-spacing:1.58px;">$330</span><span class="t md" style="left:55px;top:617.5px;letter-spacing:0.22px;">Xilancer App Installation</span><span class="t dk" style="left:444px;top:617.5px;">1</span><span class="t dk" style="left:534px;top:617.5px;letter-spacing:1.58px;">$300</span><span class="t dk" style="left:651px;top:617.5px;letter-spacing:-2.01px;">10%</span><span class="t dk" style="left:814px;top:617.5px;letter-spacing:1.58px;">$330</span><div class="r" style="left:532px;top:792px;width:329px;height:2px;background:#eef1f5;"></div><span class="t tx" style="left:532px;top:702.5px;letter-spacing:0.33px;">Subtotal</span><span class="t vl" style="left:788px;top:700.5px;letter-spacing:0.53px;">$2,499</span><span class="t tx" style="left:532px;top:758.5px;letter-spacing:-0.28px;">Tax</span><span class="t vl" style="left:791px;top:756.5px;letter-spacing:-0.07px;">$249.9</span><span class="t tx" style="left:532px;top:815.5px;letter-spacing:0.15px;">Discount</span><span class="t vl" style="left:820px;top:813.5px;letter-spacing:1.31px;">$40</span><span class="t tx" style="left:532px;top:885.5px;letter-spacing:0.72px;">Total</span><span class="t tt" style="left:767px;top:882.5px;letter-spacing:0.61px;">$2708.9</span></div></div>
</body></html>
